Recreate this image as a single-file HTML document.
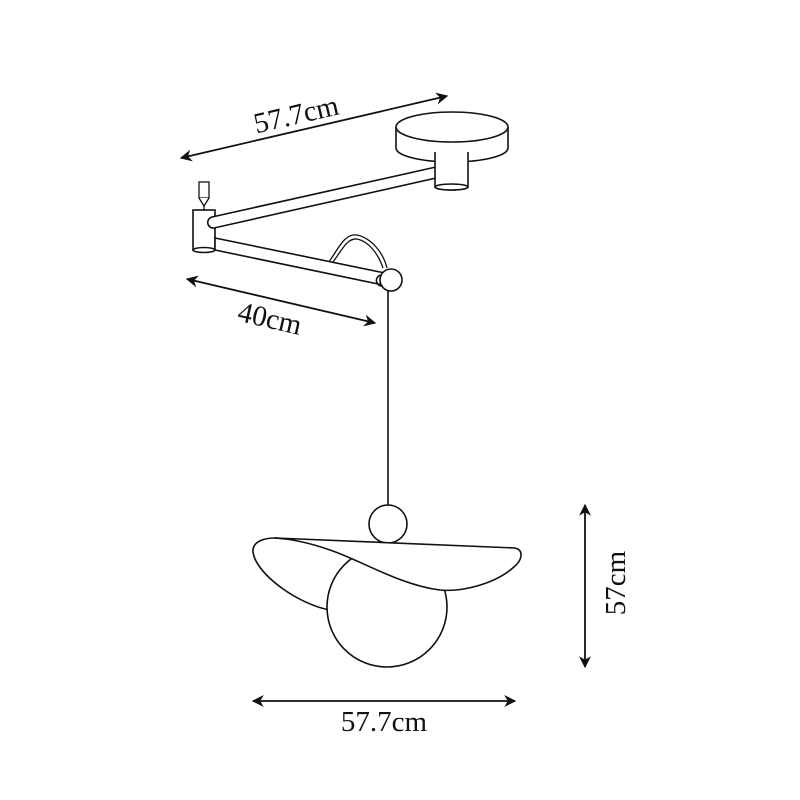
<!DOCTYPE html>
<html><head><style>html,body{margin:0;padding:0;background:#fff}svg{display:block}</style></head>
<body>
<svg width="800" height="800" viewBox="0 0 800 800" xmlns="http://www.w3.org/2000/svg">
<defs>
<marker id="ah" viewBox="0 0 10 10" refX="9" refY="5" markerWidth="12" markerHeight="12" markerUnits="userSpaceOnUse" orient="auto-start-reverse"><path d="M0,0 L10,5 L0,10 L3,5 z" fill="#111"/></marker>
</defs>
<g fill="#fff" stroke="#111" stroke-width="1.6">
<!-- canopy -->
<path d="M396,127 L396,148 A56,14 0 0 0 508,148 L508,127"/>
<ellipse cx="452" cy="127" rx="56" ry="15"/>
<!-- post -->
<rect x="193" y="210" width="22" height="40"/>
<ellipse cx="204" cy="250" rx="11" ry="2.5"/>
<!-- upper arm -->
<path d="M436,167 L212,217 A5.6,5.6 0 0 0 214,228 L436,178 Z"/>
<!-- canopy stem -->
<path d="M435,152 L435,187 A16.5,3 0 0 0 468,187 L468,152"/>
<ellipse cx="451.5" cy="187" rx="16.5" ry="3"/>
<!-- wire -->
<path d="M328,263 C338,250 344,233 357,235 C371,238 383,252 387,268" fill="none" stroke-width="1.3"/>
<path d="M333,262 C342,250 347,238 357,239 C368,241 378,253 383,268" fill="none" stroke-width="1.3"/>
<!-- lower arm -->
<path d="M215,238 L385,273 L383,285 L215,250 Z"/>
<!-- joint ball -->
<circle cx="391" cy="280" r="11"/>
<path d="M381,275 A5.5,5.5 0 0 0 383,286" fill="none"/>
<!-- fitting -->
<rect x="199" y="182" width="10" height="16" stroke-width="1.3"/>
<path d="M199,198 L204,206 L209,198" stroke-width="1.3"/>
<line x1="204" y1="206" x2="204" y2="211" stroke-width="1.3"/>
<!-- cord -->
<line x1="388" y1="291" x2="388" y2="505"/>
<!-- small ball -->
<circle cx="388" cy="524" r="19"/>
<!-- shade left lobe -->
<path d="M285,539 C268,536 252,540 253,552 C256,575 300,605 330,610 L345,575 Z" stroke="none"/>
<path d="M285,539 C268,536 252,540 253,552 C256,575 300,605 330,610" fill="none"/>
<!-- globe -->
<circle cx="387" cy="607" r="60"/>
<!-- shade front -->
<path d="M275,538 L515,548 C524,550 522,560 515,566 C495,585 460,592 440,590 C400,585 360,560 330,550 C310,543 292,539 275,538 Z"/>
</g>
<!-- dimensions -->
<g stroke="#111" stroke-width="1.8" fill="none">
<line x1="181" y1="158" x2="447" y2="96" marker-start="url(#ah)" marker-end="url(#ah)"/>
<line x1="187" y1="279" x2="375" y2="323" marker-start="url(#ah)" marker-end="url(#ah)"/>
<line x1="585" y1="505" x2="585" y2="667" marker-start="url(#ah)" marker-end="url(#ah)"/>
<line x1="253" y1="701" x2="515" y2="701" marker-start="url(#ah)" marker-end="url(#ah)"/>
</g>
<g font-family="Liberation Serif, serif" font-size="29" fill="#111">
<text x="296" y="124" text-anchor="middle" transform="rotate(-13 296 114)">57.7cm</text>
<text x="270" y="328" text-anchor="middle" transform="rotate(13 270 318)">40cm</text>
<text x="615" y="583" text-anchor="middle" transform="rotate(-90 615 583) translate(0,10)">57cm</text>
<text x="384" y="731" text-anchor="middle">57.7cm</text>
</g>
</svg>
</body></html>
